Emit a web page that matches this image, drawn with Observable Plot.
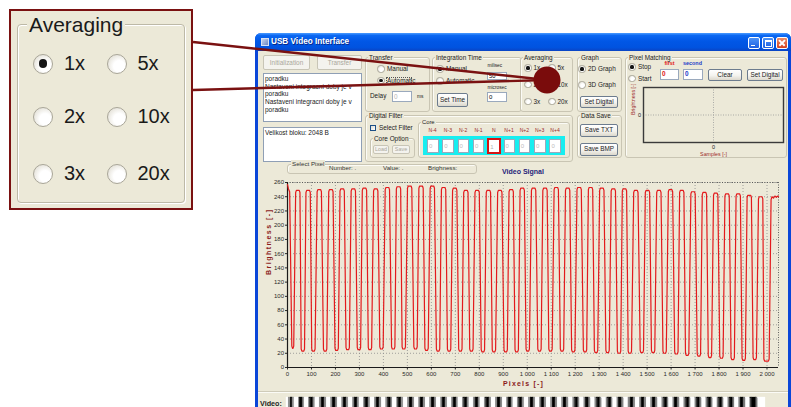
<!DOCTYPE html>
<html><head><meta charset="utf-8">
<script src="https://cdn.jsdelivr.net/npm/d3@7"></script>
<script src="https://cdn.jsdelivr.net/npm/@observablehq/plot@0.6"></script>
<style>
html,body{margin:0;padding:0;background:#fff;}
body{width:791px;height:407px;overflow:hidden;position:relative;font-family:"Liberation Sans",Arial,sans-serif;}
svg{overflow:visible;}
</style></head><body>
<script>
// ---------- data ----------
// centres of the dark (low) parts of the video signal, pixel index
const troughX = [22, 64, 108, 157, 205, 251, 298, 344, 392, 441, 485, 534, 580, 628, 674, 721, 767, 815, 861, 910, 956, 1002, 1051, 1097, 1145, 1192, 1241, 1287, 1335, 1383, 1428, 1478, 1525, 1573, 1622, 1667, 1716, 1762, 1810, 1857, 1903, 1949, 1998];
// brightness at each low part
const troughY = [27, 23, 23, 23, 24, 25, 25, 25, 26, 26, 26, 26, 24, 23, 23, 23, 23, 22, 22, 22, 22, 23, 23, 23, 23, 22, 22, 21, 21, 20, 20, 21, 21, 20, 19, 17, 16, 14, 13, 11, 10, 11, 9];
// brightness at each bright part (between consecutive lows)
const peakY = [249, 249, 250, 250, 251, 251, 252, 251, 253, 254, 255, 255, 255, 253, 252, 249, 249, 249, 249, 250, 252, 252, 252, 253, 252, 253, 253, 252, 251, 251, 249, 249, 249, 250, 249, 247, 246, 245, 244, 244, 242, 240];
// signal start and tail
const startPts = [[0, 257], [4, 251], [9, 247]];
const endPts = [[2017, 236], [2021, 240], [2027, 238], [2033, 241], [2039, 239], [2044, 241], [2048, 240]];
const xTicks = [0, 100, 200, 300, 400, 500, 600, 700, 800, 900, 1000, 1100, 1200, 1300, 1400, 1500, 1600, 1700, 1800, 1900, 2000];
const yTicks = [0, 20, 40, 60, 80, 100, 120, 140, 160, 180, 200, 220, 240, 260];
const yLabel = "Brightness [-]";
const xLabel = "Pixels [-]";
const logLines = ["poradku", "Nastaveni integracni doby je v", "poradku", "Nastaveni integracni doby je v", "poradku"];
const coreLabels = ["N-4", "N-3", "N-2", "N-1", "N", "N+1", "N+2", "N+3", "N+4"];
const coreValues = ["0", "0", "0", "0", "1", "0", "0", "0", "0"];
const avgOptions = ["1x", "5x", "2x", "10x", "3x", "20x"];

// ---------- build the trace from the read levels ----------
const wave = [];
startPts.forEach(([x, y]) => wave.push({x, y}));
troughX.forEach((c, i) => {
  const lo = troughY[i];
  if (i > 0) {
    const p = (troughX[i - 1] + c) / 2, hi = peakY[i - 1];
    wave.push({x: p - 9, y: hi - 3}, {x: p - 6, y: hi}, {x: p + 6, y: hi}, {x: p + 9, y: hi - 3});
  }
  const hw = i === 0 ? 1 : (i === troughX.length - 1 ? 8 : 4);
  wave.push({x: c - hw - 3, y: lo + 3}, {x: c - hw, y: lo}, {x: c + hw, y: lo}, {x: c + hw + 3, y: lo + 3});
});
endPts.forEach(([x, y]) => wave.push({x, y}));

// ---------- helpers ----------
const B = document.body;
function mk(css, txt, parent = B) {
  const e = document.createElement("div");
  e.style.cssText = "position:absolute;box-sizing:border-box;" + css;
  if (txt != null) e.textContent = txt;
  parent.appendChild(e); return e;
}
function T(x, cy, s, size, extra = "") {
  const lh = size * 1.25;
  return mk(`left:${x}px;top:${cy - lh / 2}px;font-size:${size}px;line-height:${lh}px;white-space:nowrap;color:#1b1b1b;${extra}`, s);
}
function TC(cx, cy, s, size, extra = "") {
  const lh = size * 1.25;
  return mk(`left:${cx - 30}px;width:60px;text-align:center;top:${cy - lh / 2}px;font-size:${size}px;line-height:${lh}px;white-space:nowrap;color:#1b1b1b;${extra}`, s);
}
function group(x, y, w, h, label, size = 6.4) {
  mk(`left:${x}px;top:${y}px;width:${w}px;height:${h}px;border:1px solid #c9c5b3;border-radius:3px;box-shadow:inset 1px 1px 0 #fbfbf6;`);
  if (label) T(x + 3, y + 0.5, label, size, "background:#ece9d8;padding:0 1px;color:#222;");
}
function radio(cx, cy, r, on, dot = 0.42) {
  mk(`left:${cx - r}px;top:${cy - r}px;width:${2 * r}px;height:${2 * r}px;border-radius:50%;border:1px solid #a9a699;background:radial-gradient(circle at 62% 62%, #ffffff 35%, #d8d4c6 100%);`);
  if (on) mk(`left:${cx - r * dot}px;top:${cy - r * dot}px;width:${2 * r * dot}px;height:${2 * r * dot}px;border-radius:50%;background:#151515;`);
}
function button(x, y, w, h, label, dis = false, size = 6.4) {
  mk(`left:${x}px;top:${y}px;width:${w}px;height:${h}px;border:1px solid ${dis ? '#c8c5b6' : '#6d7c8e'};border-radius:2px;background:${dis ? '#f4f3ee' : 'linear-gradient(#ffffff,#f4f3ee 55%,#dcd8cc)'};font-size:${size}px;line-height:${h - 2}px;text-align:center;color:${dis ? '#aaa89c' : '#1b1b1b'};white-space:nowrap;overflow:hidden;`, label);
}
function input(x, y, w, h, val, extra = "", size = 6.4) {
  mk(`left:${x}px;top:${y}px;width:${w}px;height:${h}px;border:1px solid #9aa9bd;background:#fff;font-size:${size}px;line-height:${h - 2}px;padding-left:1px;white-space:nowrap;overflow:hidden;${extra}`, val);
}

// ---------- callout (enlarged Averaging box) ----------
mk("left:9px;top:9px;width:184px;height:201px;border:2px solid #7a1111;background:#ece9d8;");
mk("left:17px;top:24px;width:168px;height:179px;border:1px solid #bdb9a7;border-radius:4px;box-shadow:inset 1px 1px 0 #fff, 1px 1px 0 #fff;");
T(27, 25.5, "Averaging", 21, "background:#ece9d8;padding:0 2px;color:#1a1a1a;");
[[43, 63.5], [116.5, 63.5], [43, 116.5], [116.5, 116.5], [43, 173.5], [116.5, 173.5]].forEach(([cx, cy], i) => {
  radio(cx, cy, 10, i === 0, 0.42);
  T(cx + 21, cy, avgOptions[i], 20, "color:#1a1a1a;");
});

// ---------- window frame ----------
mk("left:255px;top:33px;width:536px;height:380px;background:#0a46d8;border-radius:6px 6px 0 0;");
mk("left:255px;top:33px;width:536px;height:18px;border-radius:6px 6px 0 0;background:linear-gradient(180deg,#4a9bff 0%,#0b68f2 14%,#0157e6 45%,#0053e0 80%,#0a44c4 100%);");
mk("left:258px;top:51px;width:530px;height:360px;background:#ece9d8;");
mk("left:261px;top:37.5px;width:8px;height:8px;border:1px solid #d8e2f4;background:linear-gradient(135deg,#c9d6ee,#6a86c4);");
T(271, 42, "USB Video Interface", 8.2, "color:#fff;font-weight:bold;text-shadow:1px 1px 0 #0a2a8a;");
mk("left:748px;top:37px;width:12px;height:12px;border:1px solid #fff;border-radius:2px;background:linear-gradient(#4d93f7,#1c5fe2);");
mk("left:750.5px;top:44.5px;width:4px;height:1.6px;background:#fff;");
mk("left:762px;top:37px;width:12px;height:12px;border:1px solid #fff;border-radius:2px;background:linear-gradient(#4d93f7,#1c5fe2);");
mk("left:764.5px;top:39.5px;width:7px;height:7px;border:1px solid #fff;border-top-width:2px;");
mk("left:775.5px;top:37px;width:12px;height:12px;border:1px solid #fff;border-radius:2px;background:linear-gradient(#ec8c68,#d5421f);");
mk("left:777.5px;top:42.2px;width:8px;height:1.6px;background:#fff;transform:rotate(45deg);");
mk("left:777.5px;top:42.2px;width:8px;height:1.6px;background:#fff;transform:rotate(-45deg);");

// ---------- top controls ----------
button(263, 55, 47, 15, "Initialization", true);
button(317, 55, 45, 15, "Transfer", true);
const log = mk("left:263px;top:73px;width:99px;height:49px;border:1px solid #8f9fb5;background:#fff;padding:1px 1px;font-size:6.5px;line-height:7.7px;color:#1b1b1b;overflow:hidden;white-space:nowrap;");
logLines.forEach(l => { const d = document.createElement("div"); d.textContent = l; log.appendChild(d); });
const info = mk("left:263px;top:127px;width:99px;height:35px;border:1px solid #8f9fb5;background:#fff;padding:1px 1px;font-size:6.5px;line-height:7.7px;color:#1b1b1b;white-space:nowrap;");
info.textContent = "Velikost bloku: 2048 B";

group(365, 57, 65, 55, "Transfer");
radio(381, 69, 3.6, false); T(387, 69, "Manual", 6.4);
radio(381, 80.5, 3.6, true); T(387, 80.5, "Automatic", 6.4);
mk("left:386px;top:76.5px;width:26px;height:8px;border:1px dotted #555;");
T(370, 96, "Delay", 6.4);
input(392, 90.5, 20, 11, "0", "color:#b5b5b5;");
T(417, 97, "ms", 4.8);

group(432, 57, 90, 55, "Integration Time");
radio(440, 69, 3.6, true); T(446, 69, "Manual", 6.4);
radio(440, 81, 3.6, false); T(446, 81, "Automatic", 6.4);
T(487.5, 66, "milisec", 4.8);
input(487, 71.5, 20, 8, "50", "", 5.8);
T(487.5, 88, "microsec", 4.8);
input(487, 92, 20, 10, "0", "", 6);
button(437, 93, 31, 14, "Set Time");

group(520, 57, 53, 55, "Averaging");
[[528, 68], [552, 68], [528, 84.5], [552, 84.5], [528, 101.5], [552, 101.5]].forEach(([cx, cy], i) => {
  radio(cx, cy, 3.6, i === 0);
  T(cx + 5.5, cy, avgOptions[i], 6.4);
});

group(577, 57, 45, 55, "Graph");
radio(582, 69, 3.6, true); T(588, 69, "2D Graph", 6.4);
radio(582, 85, 3.6, false); T(588, 85, "3D Graph", 6.4);
button(580, 96, 38, 12, "Set Digital");

group(577, 115, 45, 43, "Data Save");
button(580, 124, 38, 12.5, "Save TXT");
button(580, 143, 38, 12.5, "Save BMP");

group(625, 57, 162, 101, "Pixel Matching");
radio(632, 67, 3.6, true); T(638, 67, "Stop", 6.4);
radio(632, 78.5, 3.6, false); T(638, 78.5, "Start", 6.4);
TC(669.5, 63.5, "first", 5.4, "color:#e01414;font-weight:bold;");
input(660, 69, 19, 10.5, "0", "color:#e01414;font-weight:bold;");
TC(692.5, 63.5, "second", 5.4, "color:#1c3cc8;font-weight:bold;");
input(683, 69, 20, 10.5, "0", "color:#1c3cc8;font-weight:bold;");
button(708, 69, 34, 11.5, "Clear");
button(747, 69, 36, 11.5, "Set Digital");

group(365, 115, 208, 47, "Digital Filter");
mk("left:370px;top:125px;width:6px;height:6px;border:1px solid #1c4f86;background:linear-gradient(135deg,#dcdcd4,#fff);");
T(379, 128, "Select Filter", 6.4);
group(370, 138, 45, 20, "Core Option");
button(373, 145, 16, 9, "Load", true, 5.4);
button(392, 145, 18, 9, "Save", true, 5.4);
group(418, 122, 152, 36, null);
T(421, 122.3, "Core", 5.8, "background:#ece9d8;padding:0 1px;color:#222;");
mk("left:423px;top:135.5px;width:142px;height:19.5px;background:#17eef0;");
coreLabels.forEach((l, i) => {
  TC(432.6 + i * 15.3, 130.3, l, 5.1, "color:#9b2a2a;");
  const x = 427 + i * 15.3;
  if (i === 4) input(x - 1, 137.5, 13.5, 16, coreValues[i], "border:2px solid #d41414;color:#b5b5b5;", 6);
  else input(x, 138.5, 11.5, 14, coreValues[i], "color:#bdbdbd;", 6);
});

// ---------- chart header ----------
group(287, 164, 190, 9.5, null);
T(291, 164.2, "Select Pixel", 6.2, "background:#ece9d8;padding:0 1px;color:#333;");
T(329, 168.3, "Number: .", 6.2, "color:#333;");
T(383, 168.3, "Value: .", 6.2, "color:#333;");
T(428, 168.3, "Brighness:", 6.2, "color:#333;");
T(502, 172, "Video Signal", 7, "color:#1e2378;font-weight:bold;");

// ---------- main chart ----------
const fmt = d => d >= 1000 ? Math.floor(d / 1000) + " " + String(d % 1000).padStart(3, "0") : String(d);
const main = Plot.plot({
  width: 530, height: 215,
  marginLeft: 29, marginRight: 10, marginTop: 7, marginBottom: 23,
  style: {background: "transparent", fontSize: "6px", fontFamily: "Liberation Sans, Arial, sans-serif", color: "#2a2a2a", overflow: "visible"},
  x: {domain: [0, 2048], ticks: xTicks, tickFormat: fmt, tickSize: 2.5, tickPadding: 2, label: null},
  y: {domain: [0, 260], ticks: yTicks, tickSize: 2, tickPadding: 1.5, label: null},
  marks: [
    Plot.ruleX(xTicks, {stroke: "#8c8c8c", strokeWidth: 0.8, strokeDasharray: "1,2"}),
    Plot.ruleY(yTicks, {stroke: "#8c8c8c", strokeWidth: 0.8, strokeDasharray: "1,2"}),
    Plot.ruleY([260], {stroke: "#555", strokeWidth: 0.9, strokeDasharray: "1,1.5"}),
    Plot.ruleX([2048], {stroke: "#555", strokeWidth: 0.9, strokeDasharray: "1,1.5"}),
    Plot.ruleX([0], {stroke: "#1a1a1a", strokeWidth: 1.2}),
    Plot.ruleY([0], {stroke: "#1a1a1a", strokeWidth: 1.2}),
    Plot.line(wave, {x: "x", y: "y", stroke: "#e31a1c", strokeWidth: 1.2}),
    Plot.text([yLabel], {text: d => d, frameAnchor: "left", dx: -19, rotate: -90, fill: "#8b1a1a", fontWeight: "bold", fontSize: 7}),
    Plot.text([xLabel], {text: d => d, frameAnchor: "bottom", dx: -9.5, dy: 18, fill: "#8b1a1a", fontWeight: "bold", fontSize: 7})
  ]
});
main.style.position = "absolute"; main.style.left = "258px"; main.style.top = "175px";
B.appendChild(main);
d3.select(main).selectAll("text").filter(function () { return this.textContent === yLabel; }).style("letter-spacing", "1.5px");
d3.select(main).selectAll("text").filter(function () { return this.textContent === xLabel; }).style("letter-spacing", "1.2px");

// ---------- pixel matching mini chart ----------
const mini = Plot.plot({
  width: 162, height: 74,
  marginLeft: 18, marginRight: 4, marginTop: 3, marginBottom: 16,
  style: {background: "transparent", fontSize: "5.5px", fontFamily: "Liberation Sans, Arial, sans-serif", color: "#222", overflow: "visible"},
  x: {domain: [-1, 1], ticks: [0], tickFormat: d => String(d), tickSize: 0, tickPadding: 3, label: null},
  y: {domain: [-1, 1], ticks: [0], tickFormat: d => String(d), tickSize: 0, tickPadding: 2.5, label: null},
  marks: [
    Plot.ruleX([0], {stroke: "#9a9a9a", strokeWidth: 0.8, strokeDasharray: "1,1.5"}),
    Plot.ruleY([0], {stroke: "#9a9a9a", strokeWidth: 0.8, strokeDasharray: "1,1.5"}),
    Plot.frame({stroke: "#3a3a3a", strokeWidth: 1.4}),
    Plot.text(["Samples [-]"], {text: d => d, frameAnchor: "bottom", dy: 13.5, fill: "#9b2a2a", fontSize: 5.3}),
    Plot.text(["Brightness [-]"], {text: d => d, frameAnchor: "left", dx: -10, rotate: -90, fill: "#9b2a2a", fontSize: 5.3})
  ]
});
mini.style.position = "absolute"; mini.style.left = "625px"; mini.style.top = "84px";
B.appendChild(mini);

// ---------- video strip ----------
mk("left:258px;top:391px;width:530px;height:1px;background:#cfcbb9;");
mk("left:258px;top:392px;width:530px;height:1px;background:#fbfbf6;");
T(260, 403, "Video:", 7.2, "font-weight:bold;color:#222;");
mk("left:286px;top:396.5px;width:479px;height:12px;background:#fff;");
const segs = d3.pairs(wave).map(([a, b]) => ({x1: a.x, x2: b.x, v: (a.y + b.y) / 2}));
const gray = v => { const g = Math.round(Math.max(0, Math.min(1, (v - 30) / 200)) * 255); return `rgb(${g},${g},${g})`; };
const video = Plot.plot({
  width: 479, height: 11, margin: 0,
  style: {background: "transparent"},
  x: {domain: [0, 2048], axis: null},
  y: {domain: [0, 1], axis: null},
  color: {type: "identity"},
  marks: [Plot.rect(segs, {x1: "x1", x2: "x2", y1: 0, y2: 1, fill: d => gray(d.v), stroke: d => gray(d.v), strokeWidth: 0.3})]
});
video.style.position = "absolute"; video.style.left = "286px"; video.style.top = "396.5px";
B.appendChild(video);

// ---------- callout lines and marker ----------
const ov = d3.select(B).append("svg").attr("width", 791).attr("height", 407)
  .style("position", "absolute").style("left", 0).style("top", 0).style("pointer-events", "none");
ov.append("line").attr("x1", 193).attr("y1", 42).attr("x2", 547).attr("y2", 80).attr("stroke", "#7a1111").attr("stroke-width", 2.4);
ov.append("line").attr("x1", 193).attr("y1", 90).attr("x2", 547).attr("y2", 80).attr("stroke", "#7a1111").attr("stroke-width", 2.4);
ov.append("circle").attr("cx", 547).attr("cy", 80).attr("r", 13.5).attr("fill", "#7a0c0c");
</script>
</body></html>
